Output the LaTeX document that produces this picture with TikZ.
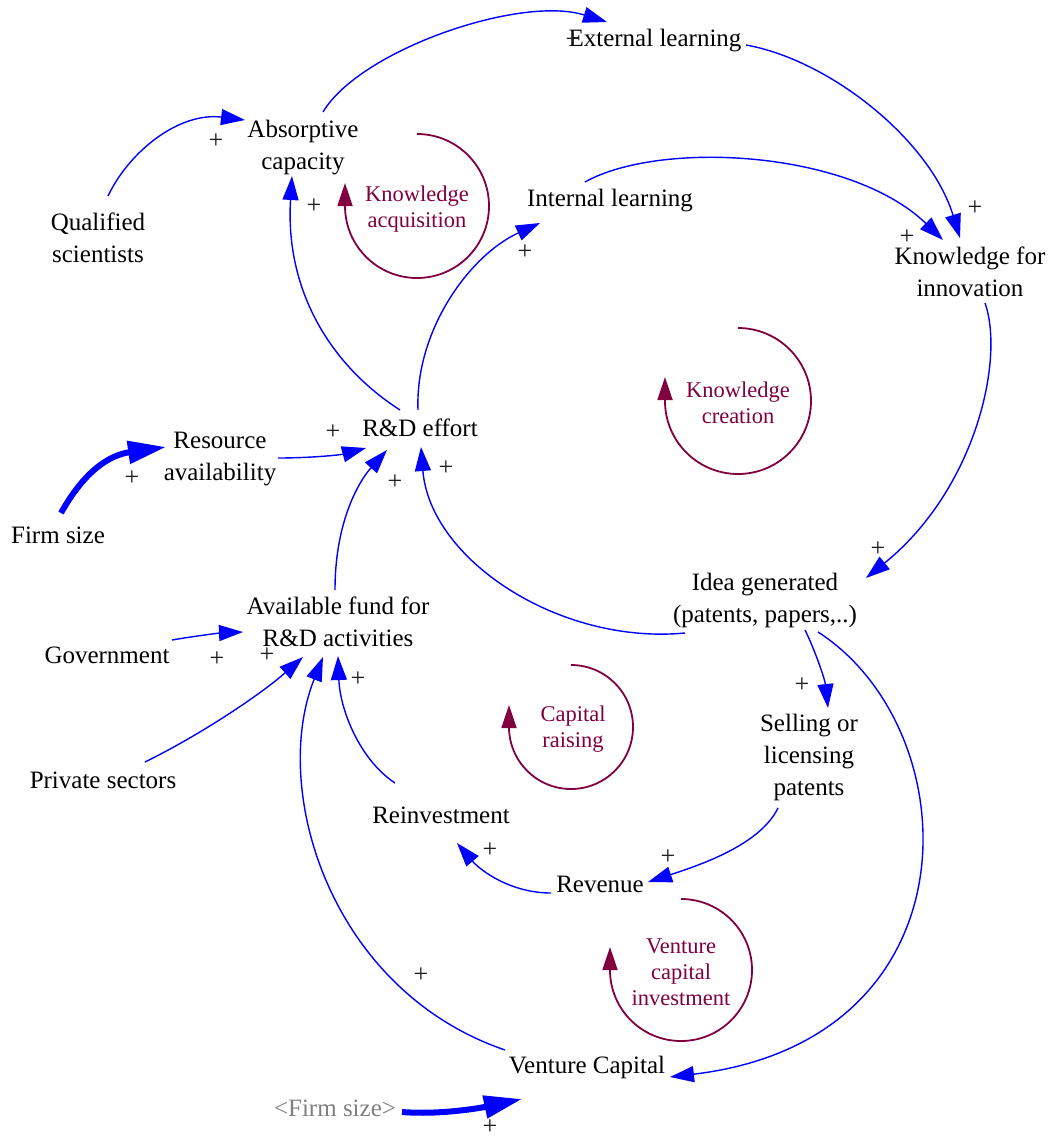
\documentclass[tikz,border=0pt]{standalone}
\usepackage{fontspec}
\setmainfont{Liberation Serif}
\usetikzlibrary{arrows.meta}
\definecolor{loopc}{RGB}{128,0,64}
\definecolor{plusc}{RGB}{30,30,30}
\definecolor{ghost}{RGB}{128,128,128}
\begin{document}
\begin{tikzpicture}[x=1pt,y=-1pt,
  var/.style={align=center, font=\fontsize{25}{32}\selectfont, inner sep=0pt},
  looplab/.style={align=center, text=loopc, font=\fontsize{22.5}{26}\selectfont, inner sep=0pt},
  plus/.style={font=\fontsize{26}{28}\selectfont, inner sep=0pt, text=plusc},
  link/.style={draw=blue, line width=1.4pt, -{Triangle[length=24pt,width=16pt]}},
  fatlink/.style={draw=blue, line width=6pt, -{Triangle[length=38pt,width=22pt]}},
  loopar/.style={draw=loopc, line width=1.8pt, -{Triangle[length=23pt,width=15pt]}},
]
\useasboundingbox (0,0) rectangle (1054,1141);
\fill[white] (0,0) rectangle (1054,1141);

% variables
\node[var] (ext) at (655,41) {External learning};
\node[var] (absorb) at (303,148) {Absorptive\\capacity};
\node[var] (qual) at (98,238) {Qualified\\scientists};
\node[var] (internal) at (610,201) {Internal learning};
\node[var] (knowinn) at (970,272) {Knowledge for\\innovation};
\node[var] (rd) at (420,428) {R\&D effort};
\node[var] (resource) at (220,459) {Resource\\availability};
\node[var] (firm) at (58,535) {Firm size};
\node[var] (idea) at (765,600) {Idea generated\\(patents, papers,..)};
\node[var] (fund) at (338,622) {Available fund for\\R\&D activities};
\node[var] (gov) at (107,655) {Government};
\node[var] (private) at (103,780) {Private sectors};
\node[var] (selling) at (809,757) {Selling or\\licensing\\patents};
\node[var] (reinvest) at (441,815) {Reinvestment};
\node[var] (revenue) at (600,884) {Revenue};
\node[var] (vc) at (587,1067) {Venture Capital};
\node[var, text=ghost] (firm2) at (335,1108) {<Firm size>};

% loop labels
\node[looplab] (lacq) at (417,209) {Knowledge\\acquisition};
\node[looplab] (lcre) at (738,403) {Knowledge\\creation};
\node[looplab] (lcap) at (573,729) {Capital\\raising};
\node[looplab] (lven) at (681,972) {Venture\\capital\\investment};

% loop arrows
\draw[loopar] (417,134) arc[start angle=-90, end angle=180, radius=72] -- ++(0,-23);
\draw[loopar] (738,328) arc[start angle=-90, end angle=180, radius=73] -- ++(0,-24);
\draw[loopar] (571,665) arc[start angle=-90, end angle=180, radius=62] -- ++(0,-22);
\draw[loopar] (681,899) arc[start angle=-90, end angle=180, radius=71] -- ++(0,-23);

% links
\draw[link] ([shift={(20,-36)}]absorb.center) .. controls (360,50) and (520,-5) .. ([shift={(-48,-19)}]ext.center);
\draw[link] ([shift={(91,4)}]ext.center) .. controls (830,60) and (930,140) .. ([shift={(-10,-34)}]knowinn.center);
\draw[link] ([shift={(-25,-19)}]internal.center) .. controls (660,140) and (850,150) .. ([shift={(-27,-32)}]knowinn.center);
\draw[link] ([shift={(-2,-18)}]rd.center) .. controls (415,330) and (470,255) .. ([shift={(-70,22)}]internal.center);
\draw[link] ([shift={(10,-42)}]qual.center) .. controls (130,150) and (180,112) .. ([shift={(-58,-28)}]absorb.center);
\draw[link] ([shift={(-20,-18)}]rd.center) .. controls (330,365) and (285,290) .. ([shift={(-11,28)}]absorb.center);
\draw[link] ([shift={(58,-1)}]resource.center) .. controls (310,458) and (340,455) .. ([shift={(-54,20)}]rd.center);
\draw[fatlink] ([shift={(3,-22)}]firm.center) .. controls (85,470) and (110,455) .. ([shift={(-54,-12)}]resource.center);
\draw[link] ([shift={(-3,-32)}]fund.center) .. controls (335,520) and (360,480) .. ([shift={(-33,22)}]rd.center);
\draw[link] ([shift={(-80,33)}]idea.center) .. controls (560,645) and (430,560) .. ([shift={(1,19)}]rd.center);
\draw[link] ([shift={(15,31)}]knowinn.center) .. controls (1005,360) and (975,490) .. ([shift={(101,-22)}]idea.center);
\draw[link] ([shift={(40,30)}]idea.center) .. controls (815,650) and (825,680) .. ([shift={(19,-49)}]selling.center);
\draw[link] ([shift={(53,32)}]idea.center) .. controls (970,730) and (980,1040) .. ([shift={(83,10)}]vc.center);
\draw[link] ([shift={(-31,51)}]selling.center) .. controls (760,845) and (700,865) .. ([shift={(48,-2)}]revenue.center);
\draw[link] ([shift={(-49,9)}]revenue.center) .. controls (510,893) and (480,870) .. ([shift={(16,28)}]reinvest.center);
\draw[link] ([shift={(-46,-32)}]reinvest.center) .. controls (360,760) and (340,710) .. ([shift={(0,34)}]fund.center);
\draw[link] ([shift={(-82,-17)}]vc.center) .. controls (330,990) and (270,790) .. ([shift={(-15,35)}]fund.center);
\draw[link] ([shift={(65,-15)}]gov.center) .. controls (195,636) and (220,633) .. ([shift={(-95,10)}]fund.center);
\draw[link] ([shift={(42,-18)}]private.center) .. controls (200,735) and (260,695) .. ([shift={(-35,35)}]fund.center);
\draw[fatlink] ([shift={(67,4)}]firm2.center) .. controls (440,1115) and (480,1108) .. ([shift={(-65,32)}]vc.center);

% polarity signs
\node[plus] (p1) at (573,40) {+};
\node[plus] (p2) at (975,208) {+};
\node[plus] (p3) at (907,237) {+};
\node[plus] (p4) at (216,141) {+};
\node[plus] (p5) at (314,206) {+};
\node[plus] (p6) at (525,252) {+};
\node[plus] (p7) at (333,432) {+};
\node[plus] (p8) at (132,478) {+};
\node[plus] (p9) at (395,482) {+};
\node[plus] (p10) at (446,468) {+};
\node[plus] (p11) at (878,549) {+};
\node[plus] (p12) at (802,685) {+};
\node[plus] (p13) at (668,857) {+};
\node[plus] (p14) at (490,850) {+};
\node[plus] (p15) at (358,679) {+};
\node[plus] (p16) at (421,975) {+};
\node[plus] (p17) at (217,659) {+};
\node[plus] (p18) at (267,655) {+};
\node[plus] (p19) at (490,1127) {+};
\end{tikzpicture}
\end{document}
